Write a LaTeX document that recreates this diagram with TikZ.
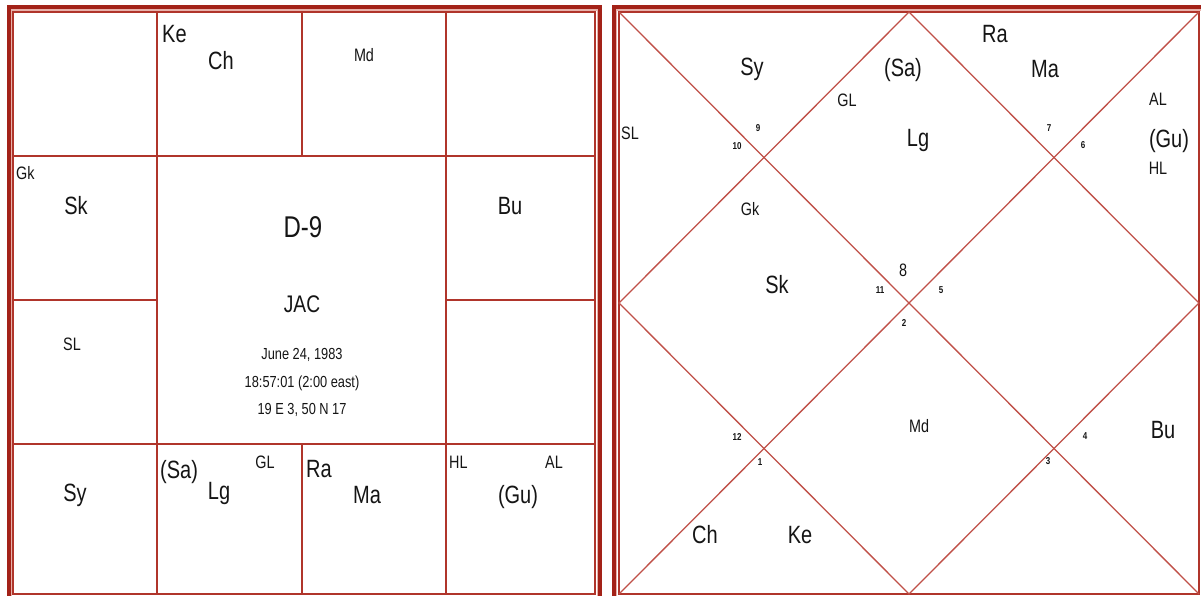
\documentclass[tikz,border=0pt]{standalone}
\usepackage{fontspec}
\setmainfont{Liberation Sans}[FakeStretch=0.8]
\usepackage{xcolor}
\usepackage{tikz}
\usetikzlibrary{positioning}
\definecolor{ChartRed}{HTML}{A32218}
\definecolor{LineRed}{HTML}{B0352B}
\definecolor{DiagRed}{HTML}{C05048}
\definecolor{GapPink}{HTML}{E8B2AB}
\definecolor{TextDark}{HTML}{151515}

\begin{document}
\begin{tikzpicture}[x=1pt,y=-1pt,
    every node/.style={text=TextDark, inner sep=0pt},
    frame/.style={ChartRed, line width=3.6pt},
    gap/.style={GapPink, line width=1.6pt},
    grid/.style={LineRed, line width=1.4pt},
    diag/.style={DiagRed, line width=1.3pt},
    planet/.style={font=\fontsize{25}{25}\selectfont},
    marker/.style={font=\fontsize{18}{18}\selectfont},
    vargatitle/.style={font=\fontsize{30}{30}\selectfont},
    natal/.style={font=\fontsize{24}{24}\selectfont},
    datum/.style={font=\fontsize{16}{16}\selectfont},
    signno/.style={font=\fontsize{10}{10}\selectfont\bfseries}]
  \useasboundingbox (0,0) rectangle (1201,596);
  \clip (0,0) rectangle (1201,596);
  \fill[white] (0,0) rectangle (1201,596);

  % south indian square
  \draw[frame] (9,7) rectangle (600,599);
  \draw[gap]   (11.5,10) rectangle (597.5,596.5);
  \draw[grid]  (13,12) rectangle (595,594);
  \draw[grid]  (13,156) -- (595,156);
  \draw[grid]  (13,444) -- (595,444);
  \draw[grid]  (13,300) -- (157,300);
  \draw[grid]  (446,300) -- (595,300);
  \draw[grid]  (157,12) -- (157,594);
  \draw[grid]  (446,12) -- (446,594);
  \draw[grid]  (302,12) -- (302,156);
  \draw[grid]  (302,444) -- (302,594);

  \node[planet, anchor=base west] (sKe) at (162,43) {Ke};
  \node[planet, anchor=base] (sCh) at (221,70) {Ch};
  \node[marker, anchor=base] (sMd) at (364,62) {Md};
  \node[marker, anchor=base west] (sGk) at (16,179) {Gk};
  \node[planet, anchor=base] (sSk) at (76,214) {Sk};
  \node[planet, anchor=base] (sBu) at (510,214) {Bu};
  \node[marker, anchor=base] (sSL) at (72,350) {SL};
  \node[vargatitle, anchor=base] (sTitle) at (303,237) {D-9};
  \node[natal, anchor=base] (sName) at (302,312) {JAC};
  \node[datum, anchor=base] (sDate) at (302,359) {June 24, 1983};
  \node[datum, anchor=base] (sTime) at (302,387) {18:57:01 (2:00 east)};
  \node[datum, anchor=base] (sPlace) at (302,414) {19 E 3, 50 N 17};
  \node[planet, anchor=base] (sSy) at (75,501) {Sy};
  \node[planet, anchor=base west] (sSa) at (160,478) {(Sa)};
  \node[marker, anchor=base] (sGL) at (265,468) {GL};
  \node[planet, anchor=base] (sLg) at (219,499) {Lg};
  \node[planet, anchor=base west] (sRa) at (306,477) {Ra};
  \node[planet, anchor=base] (sMa) at (367,503) {Ma};
  \node[marker, anchor=base west] (sHL) at (449,468) {HL};
  \node[marker, anchor=base] (sAL) at (554,468) {AL};
  \node[planet, anchor=base] (sGu) at (518,503) {(Gu)};

  % north indian diamond
  \draw[frame] (614,7) rectangle (1205,599);
  \draw[gap]   (616.5,10) rectangle (1202,596.5);
  \draw[grid]  (619,12) rectangle (1199,594);
  \draw[diag]  (619,12) -- (1199,594);
  \draw[diag]  (1199,12) -- (619,594);
  \draw[diag]  (909,12) -- (619,303) -- (909,594) -- (1199,303) -- cycle;

  \node[planet, anchor=base] (nSy) at (752,76) {Sy};
  \node[planet, anchor=base] (nSa) at (903,77) {(Sa)};
  \node[marker, anchor=base] (nGL) at (847,107) {GL};
  \node[marker, anchor=base] (nSL) at (630,140) {SL};
  \node[planet, anchor=base] (nRa) at (995,43) {Ra};
  \node[planet, anchor=base] (nMa) at (1045,78) {Ma};
  \node[planet, anchor=base] (nLg) at (918,147) {Lg};
  \node[marker, anchor=base] (nAL) at (1158,106) {AL};
  \node[planet, anchor=base] (nGu) at (1169,148) {(Gu)};
  \node[marker, anchor=base] (nHL) at (1158,175) {HL};
  \node[marker, anchor=base] (nGk) at (750,215) {Gk};
  \node[planet, anchor=base] (nSk) at (777,293) {Sk};
  \node[marker, anchor=base] (nMd) at (919,432) {Md};
  \node[planet, anchor=base] (nBu) at (1163,438) {Bu};
  \node[planet, anchor=base] (nCh) at (705,543) {Ch};
  \node[planet, anchor=base] (nKe) at (800,543) {Ke};

  \node[signno] (h2) at (758,128) {9};
  \node[signno] (h3) at (737,146) {10};
  \node[signno] (h4) at (880,290) {11};
  \node[signno, font=\fontsize{18}{18}\selectfont] (h1) at (903,270) {8};
  \node[signno] (h10) at (941,290) {5};
  \node[signno] (h7) at (904,323) {2};
  \node[signno] (h5) at (737,437) {12};
  \node[signno] (h6) at (760,462) {1};
  \node[signno] (h8) at (1048,461) {3};
  \node[signno] (h9) at (1085,436) {4};
  \node[signno] (h12) at (1049,128) {7};
  \node[signno] (h11) at (1083,145) {6};
\end{tikzpicture}
\end{document}
